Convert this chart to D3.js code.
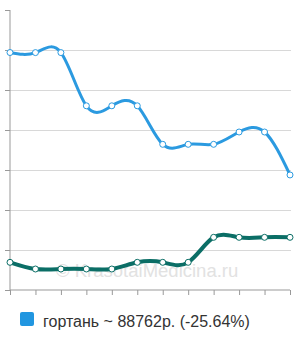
<!DOCTYPE html>
<html><head><meta charset="utf-8">
<script src="https://cdn.jsdelivr.net/npm/d3@7"></script>
<style>html,body{margin:0;padding:0;background:#fff;}svg{display:block;}</style>
</head><body>
<svg id="c" width="300" height="340"></svg>
<script>
const categories = ["1","2","3","4","5","6","7","8","9","10","11","12"];
const blueValues = [119370, 119350, 119350, 106050, 106050, 106050, 96420, 96420, 96420, 99500, 99500, 88762];
const greenValues = [66920, 65250, 65250, 65250, 65250, 66920, 66920, 66920, 73170, 73170, 73170, 73170];
const yTicks = [60000, 70000, 80000, 90000, 100000, 110000, 120000, 130000];
const legendLabel = "гортань ~ 88762р. (-25.64%)";
const watermark = "© KrasotaiMedicina.ru";

const svg = d3.select("#c");
const x = d3.scalePoint().domain(categories).range([10, 290]);
const y = d3.scaleLinear().domain([60000, 130000]).range([290, 10]);

// gridlines
svg.append("g").selectAll("line").data(yTicks.filter(v => v > 60000 && v < 130000)).join("line")
  .attr("x1", 10).attr("x2", 291).attr("y1", d => y(d)).attr("y2", d => y(d))
  .attr("stroke", "#d8d8d8").attr("stroke-width", 1).attr("shape-rendering", "crispEdges");

// watermark
svg.append("text").attr("x", 56).attr("y", 277).text(watermark)
  .attr("font-family", "Liberation Sans, Arial, sans-serif").attr("font-size", 18.5)
  .attr("fill", "#e2e2e2");

// axes
const yAxis = d3.axisLeft(y).tickValues(yTicks).tickSize(5).tickFormat("");
const gy = svg.append("g").attr("transform", "translate(10,0)").call(yAxis);
const xAxis = d3.axisBottom(x).tickSize(5).tickFormat("");
const gx = svg.append("g").attr("transform", "translate(0,290)").call(xAxis);
[gy, gx].forEach(g => {
  g.selectAll(".domain").attr("stroke", "#999");
  g.selectAll("line").attr("stroke", "#999");
});
gy.select(".domain").attr("d", "M10,10V290").attr("transform", "translate(-10,0)");
gx.select(".domain").attr("d", "M10,0H290");

const line = d3.line().x((d, i) => x(categories[i])).y(d => y(d)).curve(d3.curveNatural);

function series(vals, color, width) {
  svg.append("path").datum(vals).attr("d", line).attr("fill", "none")
    .attr("stroke", color).attr("stroke-width", width).attr("stroke-linejoin", "round");
  svg.append("g").selectAll("circle").data(vals).join("circle")
    .attr("cx", (d, i) => x(categories[i])).attr("cy", d => y(d)).attr("r", 3)
    .attr("fill", "#fff").attr("stroke", color).attr("stroke-width", 1);
}
series(greenValues, "#0b6e66", 4);
series(blueValues, "#2b9ae0", 3);

// legend
svg.append("rect").attr("x", 20).attr("y", 312).attr("width", 14).attr("height", 14).attr("rx", 2)
  .attr("fill", "#2196e0");
svg.append("text").attr("x", 43).attr("y", 327).text(legendLabel)
  .attr("font-family", "Liberation Sans, Arial, sans-serif").attr("font-size", 16).attr("fill", "#333");
</script>
</body></html>
